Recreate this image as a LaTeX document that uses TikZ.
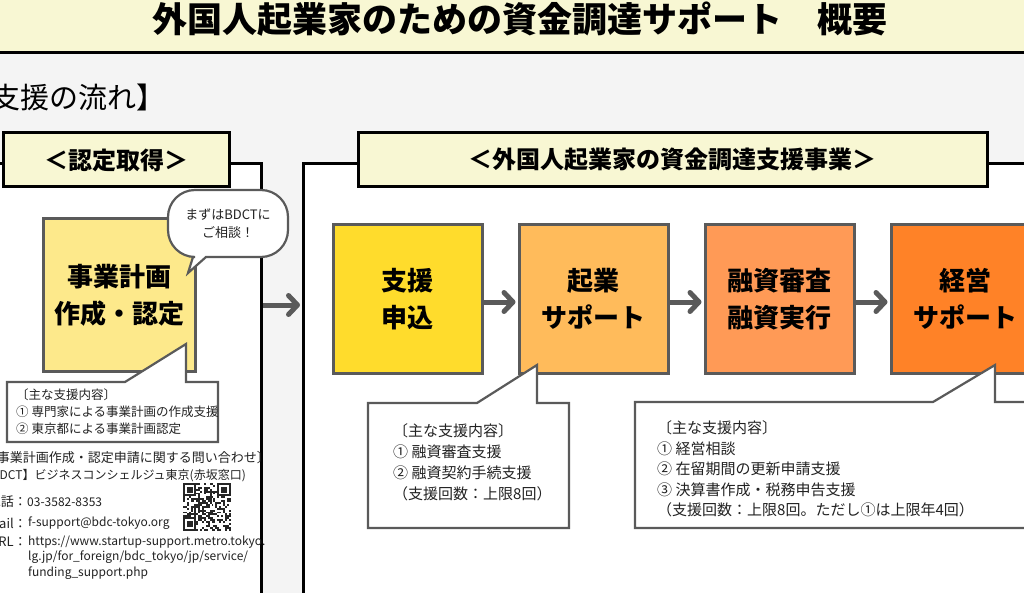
\documentclass[tikz,border=0pt]{standalone}
\usepackage{fontspec}
\setmainfont{Noto Sans CJK JP}
\usetikzlibrary{arrows.meta, positioning}

\definecolor{bggray}{HTML}{F4F4F4}
\definecolor{paleyel}{HTML}{F8F7D3}
\definecolor{edgegray}{HTML}{5A5A5A}
\definecolor{planyel}{HTML}{FDE98B}
\definecolor{applyyel}{HTML}{FFDC2C}
\definecolor{startorg}{HTML}{FFBB5B}
\definecolor{loanorg}{HTML}{FF9A56}
\definecolor{manageorg}{HTML}{FF8227}
\definecolor{inktext}{HTML}{222222}

\tikzset{
  panel/.style={draw=black, line width=3pt, fill=white, inner sep=0pt, anchor=north west},
  panelhead/.style={draw=black, line width=3pt, fill=paleyel, minimum height=54pt,
    font=\fontsize{24}{28}\selectfont\bfseries, inner sep=0pt},
  stepbox/.style={draw=edgegray, line width=3pt, minimum width=149pt, minimum height=148pt,
    align=center, font=\fontsize{26}{37}\selectfont\bfseries, inner sep=0pt},
  flowarrow/.style={draw=edgegray, line width=5pt, shorten >=2pt,
    -{Straight Barb[length=9pt, width=19pt, round]}},
  calloutline/.style={draw=edgegray, line width=2.2pt, fill=white, line join=miter},
  memo/.style={align=left, anchor=west, inner sep=0pt, text=inktext},
}

\begin{document}
\begin{tikzpicture}[x=1pt, y=-1pt]
  \useasboundingbox (0,0) rectangle (1024,593);
  \clip (0,0) rectangle (1024,593);
  \fill[bggray] (0,0) rectangle (1024,593);

  % title band
  \node[draw=black, line width=3pt, fill=paleyel, minimum width=1060pt, minimum height=100pt,
        anchor=south, inner sep=0pt] (band) at (512,54) {};
  \node[font=\fontsize{35}{40}\selectfont\bfseries, inner sep=0pt] (title) at (520,19)
    {外国人起業家のための資金調達サポート　概要};
  \node[anchor=east, inner sep=0pt, font=\fontsize{29}{34}\selectfont] (flowlabel) at (166,97)
    {【支援の流れ】};

  % panels
  \node[panel, minimum width=280pt, minimum height=460pt] (lpanel) at (-20,162) {};
  \node[panel, minimum width=760pt, minimum height=460pt] (rpanel) at (302,162) {};
  \node[panelhead, minimum width=226pt] (lhead) at (116,160) {＜認定取得＞};
  \node[panelhead, minimum width=629pt] (rhead) at (672.5,160) {＜外国人起業家の資金調達支援事業＞};

  % plan box and bubble
  \node[stepbox, fill=planyel, minimum width=152pt, minimum height=152pt] (plan) at (119,295)
    {事業計画\\作成・認定};
  \draw[calloutline] (206,257) [rounded corners=27pt] -- (288,257) -- (288,190) -- (168,190)
    -- (168,257) [sharp corners] -- (193,257) -- (188,273) -- cycle;
  \node[align=center, inner sep=0pt, text=inktext, font=\fontsize{13}{18}\selectfont] (hint)
    at (228,224) {まずはBDCTに\\ご相談！};

  % steps
  \node[stepbox, fill=applyyel] (apply) at (407.5,299) {支援\\申込};
  \node[stepbox, fill=startorg, right=34pt of apply] (startup) {起業\\サポート};
  \node[stepbox, fill=loanorg, right=34pt of startup] (loan) {融資審査\\融資実行};
  \node[stepbox, fill=manageorg, right=34pt of loan] (manage) {経営\\サポート};

  \draw[flowarrow] (lpanel.east |- 0,305) -- (rpanel.west |- 0,305);
  \draw[flowarrow] ([yshift=-3pt]apply.east) -- ([yshift=-3pt]startup.west);
  \draw[flowarrow] ([yshift=-3pt]startup.east) -- ([yshift=-3pt]loan.west);
  \draw[flowarrow] ([yshift=-3pt]loan.east) -- ([yshift=-3pt]manage.west);

  % callouts
  \draw[calloutline] (7,382) -- (125,382) -- (186,344) -- (186,382) -- (218,382)
    -- (218,442) -- (7,442) -- cycle;
  \node[memo, font=\fontsize{12.5}{17}\selectfont] (plannote) at (16,412)
    {〔主な支援内容〕\\① 専門家による事業計画の作成支援\\② 東京都による事業計画認定};

  \draw[calloutline] (368,403) -- (477,403) -- (537,365) -- (537,403) -- (569,403)
    -- (569,528) -- (368,528) -- cycle;
  \node[memo, font=\fontsize{15}{21}\selectfont] (startnote) at (393,462)
    {〔主な支援内容〕\\① 融資審査支援\\② 融資契約手続支援\\（支援回数：上限8回）};

  \draw[calloutline] (635,402) -- (933,402) -- (995,365) -- (995,402) -- (1040,402)
    -- (1040,528) -- (635,528) -- cycle;
  \node[memo, font=\fontsize{15}{20.5}\selectfont] (managenote) at (657,469)
    {〔主な支援内容〕\\① 経営相談\\② 在留期間の更新申請支援\\③ 決算書作成・税務申告支援\\（支援回数：上限8回。ただし①は上限年4回）};

  % contact
  \node[anchor=east, inner sep=0pt, text=inktext, font=\fontsize{13}{15}\selectfont] (inqtitle)
    at (270,458) {〔事業計画作成・認定申請に関する問い合わせ〕};
  \node[anchor=east, inner sep=0pt, text=inktext, font=\fontsize{12}{15}\selectfont] (inqdesk)
    at (246,476) {【BDCT】ビジネスコンシェルジュ東京(赤坂窓口)};
  \node[anchor=east, inner sep=0pt, text=inktext, font=\fontsize{13}{15}\selectfont] (tellabel)
    at (27,502) {電話：};
  \node[memo, font=\fontsize{12}{15}\selectfont] (telvalue) at (27,502) {03-3582-8353};
  \node[anchor=east, inner sep=0pt, text=inktext, font=\fontsize{13}{15}\selectfont] (maillabel)
    at (27,523) {E-mail：};
  \node[memo, font=\fontsize{12}{15}\selectfont] (mailvalue) at (28,523) {f-support@bdc-tokyo.org};
  \node[anchor=east, inner sep=0pt, text=inktext, font=\fontsize{13}{15}\selectfont] (urllabel)
    at (27,542) {URL：};
  \node[memo, font=\fontsize{12}{15.5}\selectfont] (urlvalue) at (28,557.5)
    {https://www.startup-support.metro.tokyo.\\lg.jp/for\_foreign/bdc\_tokyo/jp/service/\\funding\_support.php};

  % qr code
  \pgfmathsetseed{17}
  \foreach \i in {0,...,24}{
    \foreach \j in {0,...,24}{
      \pgfmathrandominteger{\bit}{0}{1}
      \ifnum\bit=1 \fill[black!85] (183+\i*1.9,483+\j*1.9) rectangle ++(1.9,1.9); \fi
    }
  }
  \foreach \qx/\qy in {183/483, 217.2/483, 183/517.2}{
    \fill[white] (\qx,\qy) rectangle ++(13.3,13.3);
    \fill[black!85] (\qx,\qy) rectangle ++(13.3,13.3);
    \fill[white] (\qx+1.9,\qy+1.9) rectangle ++(9.5,9.5);
    \fill[black!85] (\qx+3.8,\qy+3.8) rectangle ++(5.7,5.7);
  }
\end{tikzpicture}
\end{document}
